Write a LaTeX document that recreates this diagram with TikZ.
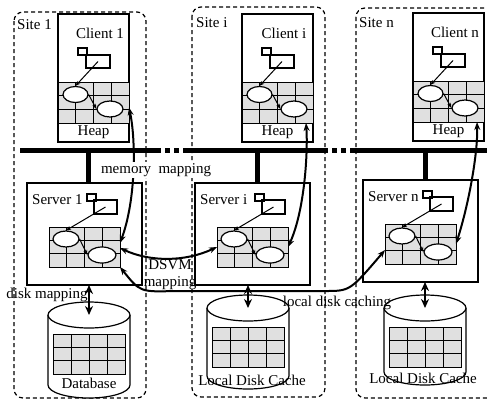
\documentclass[tikz,border=0pt]{standalone}
\usepackage{fontspec}
\setmainfont{Liberation Serif}
\usetikzlibrary{arrows.meta,calc,shapes.geometric}

\tikzset{
  site/.style={dash pattern=on 4pt off 3pt, line width=1.2pt, rounded corners=9pt},
  hostbox/.style={draw, line width=1.2pt, fill=white, inner sep=0, outer sep=0},
  cellbox/.style={draw, line width=0.8pt, fill=black!12, inner sep=0, outer sep=0},
  obj/.style={draw, ellipse, line width=1.2pt, fill=white, inner sep=0, minimum width=25, minimum height=16},
  handlebox/.style={draw, line width=1.1pt, inner sep=0},
  objref/.style={line width=1pt, -{Stealth[length=5pt,width=4pt]}},
  bus/.style={line width=5pt},
  memmap/.style={line width=2pt, {Stealth[length=8pt,width=6pt]}-{Stealth[length=8pt,width=6pt]}},
  diskmap/.style={line width=2.5pt, {Stealth[length=9pt,width=8pt]}-{Stealth[length=9pt,width=8pt]}},
  drumline/.style={line width=1.2pt, fill=white},
}

% 4x3 cells inside a named box
\newcommand\cells[1]{%
  \foreach \k in {1,2,3}
    \draw[line width=0.8pt] ($(#1.north west)!\k/4!(#1.north east)$) -- ($(#1.south west)!\k/4!(#1.south east)$);
  \foreach \k in {1,2}
    \draw[line width=0.8pt] ($(#1.north west)!\k/3!(#1.south west)$) -- ($(#1.north east)!\k/3!(#1.south east)$);
}

% client: name, top left corner, label
\newcommand\clientpanel[3]{%
  \begin{scope}[shift={#2}]
    \node[hostbox, anchor=north west, minimum width=71, minimum height=128] (#1) at (0,0) {};
    \node[cellbox, anchor=north west, minimum width=71, minimum height=41] (#1g) at (0,68) {};
    \cells{#1g}
    \node (#1t) at (42,19) {#3};
    \node (#1h) at ($(#1g.south)!0.5!(#1.south)$) {Heap};
    \node[handlebox, minimum width=9, minimum height=7] (#1s) at (24.5,37.5) {};
    \node[handlebox, minimum width=24, minimum height=13] (#1r) at (40,47.5) {};
    \node[obj] (#1a) at (17.5,80.5) {};
    \node[obj, minimum width=26] (#1b) at (52,95) {};
    \draw[objref] (#1r.center) -- (#1a.north);
    \draw[objref] (#1a.east) -- (#1b.west);
  \end{scope}}

% server: name, top left corner, label
\newcommand\serverpanel[3]{%
  \begin{scope}[shift={#2}]
    \node[hostbox, anchor=north west, minimum width=115, minimum height=102] (#1) at (0,0) {};
    \node[cellbox, minimum width=71, minimum height=40] (#1g) at (57.5,64) {};
    \cells{#1g}
    \node[anchor=west, inner sep=0] (#1t) at (5,17) {#3};
    \node[handlebox, minimum width=9, minimum height=7] (#1s) at (64.5,14.5) {};
    \node[handlebox, minimum width=23, minimum height=14] (#1r) at (78.5,24) {};
    \node[obj, minimum width=26] (#1a) at (39,56) {};
    \node[obj, minimum width=28] (#1b) at (75,72) {};
    \draw[objref] (#1r.center) -- (#1a.north);
    \draw[objref] (#1a.east) -- (#1b.west);
  \end{scope}}

% disk: name, centre x, top ellipse y, bottom ellipse y
\newcommand\drum[4]{%
  \coordinate (#1) at (#2,#3);
  \draw[drumline] (#2-41,#3) -- (#2-41,#4) arc (180:0:41 and 13) -- (#2+41,#3);
  \draw[drumline] (#1) ellipse (41 and 13);
  \node[cellbox, minimum width=72, minimum height=40] (#1g) at (#2,#3+39) {};
  \cells{#1g}
}

\begin{document}
\begin{tikzpicture}[x=1pt, y=-1pt, font=\fontsize{15}{17}\selectfont]
  \useasboundingbox (0,0) rectangle (487,400);
  \clip (0,0) rectangle (487,400);

  %%%%% SITES %%%%%
  \draw[site] (14,12) rectangle (146,398);
  \draw[site] (192,7) rectangle (325,397);
  \draw[site] (356,8) rectangle (520,398);
  \node[anchor=west, inner sep=0] (site1) at (17,25) {Site 1};
  \node[anchor=west, inner sep=0] (sitei) at (196,23) {Site i};
  \node[anchor=west, inner sep=0] (siten) at (359,23) {Site n};

  %%%%% NETWORK %%%%%
  \draw[bus] (20,150) -- (156,150);
  \draw[bus, dash pattern=on 5pt off 4pt] (156,150) -- (186,150);
  \draw[bus] (186,150) -- (323,150);
  \draw[bus, dash pattern=on 5pt off 4pt] (323,150) -- (350,150);
  \draw[bus] (350,150) -- (490,150);
  \coordinate (tap1) at (88,150);
  \coordinate (tapi) at (257,150);
  \coordinate (tapn) at (425,150);

  %%%%% CLIENTS AND SERVERS %%%%%
  \clientpanel{c1}{(58,14)}{Client 1}
  \clientpanel{ci}{(242,14)}{Client i}
  \clientpanel{cn}{(413,13)}{Client n}

  \serverpanel{v1}{(27,183)}{Server 1}
  \serverpanel{vi}{(195,183)}{Server i}
  \serverpanel{vn}{(363,180)}{Server n}

  \draw[bus] (tap1) -- (tap1 |- v1.north);
  \draw[bus] (tapi) -- (tapi |- vi.north);
  \draw[bus] (tapn) -- (tapn |- vn.north);

  %%%%% DISKS %%%%%
  \drum{db}{89}{315}{385}
  \drum{lci}{248}{308}{376}
  \drum{lcn}{425}{308}{372}
  \node (dbt) at (89,383) {Database};
  \node (lcit) at (252,380) {Local Disk Cache};
  \node (lcnt) at (423,378) {Local Disk Cache};

  \draw[diskmap] (v1.south -| db) -- (db);
  \draw[diskmap] (vi.south -| lci) -- (lci);
  \draw[diskmap] (vn.south -| lcn) -- (lcn);

  %%%%% MAPPINGS %%%%%
  \draw[memmap] ([yshift=-5pt]c1g.east) .. controls (136,140) and (136,200) .. ([yshift=4pt]v1g.east);
  \draw[memmap] ([xshift=-7pt]cig.south east) .. controls (308,150) and (305,210) .. (vig.east);
  \draw[memmap] ([xshift=-7pt]cng.south east) .. controls (478,150) and (470,200) .. (vng.east);

  \draw[memmap] ([yshift=-1pt]v1g.east) .. controls (150,262) and (185,262) .. (vig.west);
  \draw[memmap] (v1g.south east) .. controls (140,292) .. (175,291) -- (325,291)
    .. controls (350,291) .. ([yshift=-6pt]vng.west);

  \node[fill=white, inner sep=1pt] (memlbl) at (156,170) {memory\ \ mapping};
  \node[align=center, inner sep=0] (dsvmlbl) at (170,275) {DSVM\\mapping};
  \node (disklbl) at (47,295) {disk mapping};
  \node (cachelbl) at (337,303) {local disk caching};
\end{tikzpicture}
\end{document}
